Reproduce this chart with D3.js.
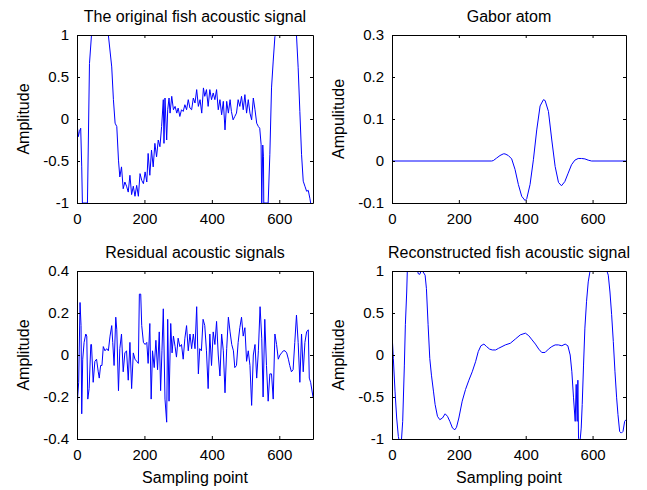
<!DOCTYPE html>
<html>
<head>
<meta charset="utf-8">
<script src="https://cdn.jsdelivr.net/npm/d3@7"></script>
<style>
  html, body { margin: 0; padding: 0; background: #fff; }
  svg { display: block; font-family: "Liberation Sans", Arial, Helvetica, sans-serif; }
</style>
</head>
<body>
<svg id="chart" width="647" height="490"></svg>
<script>
// ---------- data ----------
const originalX = [0,4,7,11,14,16,31,37,43,93,103,108,113,118,123,127,132,137,142,147,152,157,162,167,172,177,182,187,192,197,202,207,211,216,221,226,231,236,241,246,251,256,258,261,266,269,273,276,281,286,291,296,300,305,310,315,320,325,330,335,340,345,350,355,360,365,370,375,379,384,389,394,399,404,409,414,419,424,429,434,439,444,449,454,458,463,468,473,478,483,488,493,498,503,508,513,518,523,528,533,538,542,546,548,551,553,554,567,572,577,582,587,590,651,656,661,666,671,676,681,686,691,693];
const originalY = [-0.05,-0.21,-0.15,-0.11,-0.57,-1,-1,0.66,1,1,0.62,0.23,-0.05,-0.09,-0.49,-0.69,-0.57,-0.83,-0.75,-0.8,-0.87,-0.67,-0.9,-0.8,-0.92,-0.79,-0.92,-0.65,-0.73,-0.77,-0.63,-0.75,-0.41,-0.67,-0.37,-0.57,-0.29,-0.45,-0.25,-0.33,-0.09,0.23,-0.29,0.25,-0.25,0.11,0.25,0.07,0.27,0.11,0.15,0.07,0.13,0.03,0.11,0.09,0.17,0.11,0.23,0.13,0.11,0.25,0.19,0.35,0.15,0.23,0.07,0.37,0.27,0.35,0.15,0.35,0.23,0.31,0.23,0.35,0.11,0.23,0.05,0.21,-0.13,0.21,0.07,0.23,0.09,-0.01,0.03,0.07,0.23,0.15,0.27,0.11,0.29,0.07,0.23,0.07,-0.01,0.25,0.11,-0.05,-0.09,-0.11,-0.3,-1,-0.31,-0.45,-1,-1,-0.42,0.37,0.69,0.98,1,1,0.61,0.09,-0.42,-0.74,-0.8,-0.86,-0.85,-0.95,-1];

const gaborX = [0,298,303,313,323,333,338,348,358,368,378,388,398,403,413,423,433,443,453,458,468,478,488,498,507,517,527,537,547,557,567,577,587,597,700];
const gaborY = [0,0,0.001,0.007,0.013,0.017,0.017,0.013,0.005,-0.02,-0.056,-0.084,-0.094,-0.09,-0.056,0.003,0.074,0.131,0.146,0.144,0.118,0.05,-0.013,-0.051,-0.059,-0.049,-0.029,-0.009,0.002,0.006,0.006,0.005,0.002,0,0];

const residualX = [0,2,5,9,12,14,17,21,26,29,32,36,41,43,48,53,58,63,66,70,74,78,83,88,93,98,103,106,110,115,118,123,127,132,137,142,147,152,157,162,167,172,177,182,185,189,192,197,202,207,211,216,220,224,229,234,239,244,248,252,256,261,266,269,273,278,282,286,291,295,300,305,310,315,320,325,330,335,340,345,350,355,360,364,369,374,379,384,389,394,399,404,409,414,419,424,429,434,439,444,449,454,459,464,468,473,478,483,488,493,498,503,508,513,518,523,528,533,538,543,548,552,557,562,567,572,577,582,587,592,597,602,607,612,617,622,627,631,636,641,646,651,656,661,666,671,676,681,686,689,693,700];
const residualY = [-0.35,-0.2,-0.13,0.25,0.14,-0.28,-0.02,0.06,0.1,0.09,-0.21,-0.16,0.05,0.05,-0.13,-0.03,-0.02,-0.08,-0.11,-0.05,-0.05,0.04,0.02,0.03,0.02,0.09,0.14,0.06,-0.05,0.18,0.12,-0.17,0.03,0.1,-0.08,0.01,0.02,-0.12,0.06,-0.16,0.01,-0.02,-0.03,-0.04,0.29,0.29,0.14,0.06,0.05,0.06,-0.04,0.15,-0.21,0.02,-0.06,0.07,-0.07,0.11,-0.17,0.02,0.22,-0.21,-0.32,0.17,-0.22,0.15,0.01,0.09,0.04,-0.01,0.08,0.04,0.05,-0.02,0.08,0.14,0.02,0.1,0.03,0.1,0.03,0.23,-0.09,0.03,0.02,0.17,0.14,0.02,-0.16,0.1,-0.05,0.11,0.05,0.16,0,-0.1,0.1,0.02,-0.18,0.03,0.18,0.11,0.05,0.02,-0.06,-0.05,0.06,0.13,0.18,0.09,0.13,-0.03,0.02,-0.05,-0.24,0,0.05,-0.11,0.02,0.23,0.08,-0.2,0.17,-0.05,-0.22,-0.09,-0.09,-0.21,0.1,0.05,-0.02,0,0.01,0.02,0.02,0.01,-0.02,-0.05,-0.08,-0.07,0.06,0.19,0.06,-0.13,0.1,-0.08,0.06,0.11,0.12,-0.11,-0.13,-0.2];

const reconX = [0,4,9,14,19,22,28,32,37,40,44,46,52,62,71,78,83,87,93,99,103,108,113,118,124,129,136,143,151,159,166,173,181,188,193,200,210,220,230,240,250,258,266,275,283,292,300,310,319,329,339,354,369,384,399,409,419,429,439,448,458,468,478,488,498,508,518,526,533,538,543,548,551,554,556,558,562,566,569,573,577,582,587,592,599,607,617,627,642,647,652,657,662,667,672,676,681,686,691,696,700];
const reconY = [0.26,-0.04,-0.43,-0.75,-0.97,-1.03,-1.03,-0.79,-0.12,0.36,0.75,1.03,1.23,1.31,1.23,0.97,0.96,1,0.99,0.95,0.79,0.36,-0.04,-0.24,-0.43,-0.59,-0.73,-0.77,-0.75,-0.7,-0.73,-0.79,-0.87,-0.89,-0.86,-0.75,-0.55,-0.41,-0.3,-0.2,-0.08,0.04,0.11,0.13,0.1,0.07,0.06,0.06,0.08,0.1,0.12,0.14,0.19,0.24,0.26,0.23,0.18,0.13,0.07,0.03,0.03,0.07,0.1,0.12,0.12,0.11,0.13,0.11,0,-0.2,-0.51,-0.79,-0.35,-0.79,-0.3,-0.99,-1.05,-0.87,-0.59,-0.12,0.32,0.64,0.87,0.99,1.01,1,1,1.02,1.01,0.95,0.75,0.48,0.16,-0.2,-0.51,-0.71,-0.91,-0.93,-0.91,-0.79,-0.77];

const xTicks = [0, 200, 400, 600];
const yTicksSignal = [-1, -0.5, 0, 0.5, 1];
const yTicksGabor = [-0.1, 0, 0.1, 0.2, 0.3];
const yTicksResidual = [-0.4, -0.2, 0, 0.2, 0.4];

const titles = ["The original fish acoustic signal", "Gabor atom", "Residual acoustic signals", "Reconstructed fish acoustic signal"];
const yLabels = ["Amplitude", "Ampulitude", "Amplitude", "Amplitude"];
const xLabel = "Sampling point";

// ---------- drawing ----------
const svg = d3.select("#chart");
const panels = [
  { x: originalX, y: originalY, yDom: [-1, 1], yTicks: yTicksSignal, left: 77, right: 313, top: 35, bottom: 203, title: titles[0], ylab: yLabels[0], xlab: false },
  { x: gaborX, y: gaborY, yDom: [-0.1, 0.3], yTicks: yTicksGabor, left: 392, right: 626, top: 35, bottom: 203, title: titles[1], ylab: yLabels[1], xlab: false },
  { x: residualX, y: residualY, yDom: [-0.4, 0.4], yTicks: yTicksResidual, left: 77, right: 313, top: 271, bottom: 439, title: titles[2], ylab: yLabels[2], xlab: true },
  { x: reconX, y: reconY, yDom: [-1, 1], yTicks: yTicksSignal, left: 392, right: 626, top: 271, bottom: 439, title: titles[3], ylab: yLabels[3], xlab: true }
];

const tickFont = 15, labelFont = 16;
const fmt = d => (d === 0 ? "0" : String(d).replace(/^(-?)0\./, "$10."));

panels.forEach((p, i) => {
  const xs = d3.scaleLinear().domain([0, 700]).range([p.left, p.right]);
  const ys = d3.scaleLinear().domain(p.yDom).range([p.bottom, p.top]);
  const g = svg.append("g");

  const clipId = "clip" + i;
  svg.append("clipPath").attr("id", clipId).append("rect")
    .attr("x", p.left).attr("y", p.top).attr("width", p.right - p.left).attr("height", p.bottom - p.top);

  const pts = p.x.map((v, k) => [v, p.y[k]]);
  const line = d3.line().x(d => xs(d[0])).y(d => ys(d[1]));
  g.append("path").datum(pts)
    .attr("clip-path", `url(#${clipId})`)
    .attr("fill", "none").attr("stroke", "#0000ff").attr("stroke-width", 1)
    .attr("stroke-linejoin", "round")
    .attr("d", line);

  // axes (inward ticks on all four sides, MATLAB box style)
  const tl = 3;
  const axB = d3.axisBottom(xs).tickValues(xTicks).tickSizeInner(-tl).tickSizeOuter(0).tickPadding(tl + 7).tickFormat(d3.format("d"));
  const axT = d3.axisTop(xs).tickValues(xTicks).tickSizeInner(-tl).tickSizeOuter(0).tickFormat("");
  const axL = d3.axisLeft(ys).tickValues(p.yTicks).tickSizeInner(-tl).tickSizeOuter(0).tickPadding(tl + 5).tickFormat(fmt);
  const axR = d3.axisRight(ys).tickValues(p.yTicks).tickSizeInner(-tl).tickSizeOuter(0).tickFormat("");

  const styleAxis = sel => {
    sel.selectAll(".domain").attr("stroke", "#000").attr("stroke-width", 1);
    sel.selectAll(".tick line").attr("stroke", "#000");
    sel.selectAll("text").attr("fill", "#000").style("font-size", tickFont + "px")
      .style("font-family", '"Liberation Sans", Arial, sans-serif');
  };
  g.append("g").attr("transform", `translate(0,${p.bottom})`).call(axB).call(styleAxis);
  g.append("g").attr("transform", `translate(0,${p.top})`).call(axT).call(styleAxis);
  g.append("g").attr("transform", `translate(${p.left},0)`).call(axL).call(styleAxis);
  g.append("g").attr("transform", `translate(${p.right},0)`).call(axR).call(styleAxis);

  // title
  g.append("text").attr("x", (p.left + p.right) / 2).attr("y", p.top - 13)
    .attr("text-anchor", "middle").style("font-size", labelFont + "px").attr("fill", "#000")
    .text(p.title);
  // y label
  g.append("text")
    .attr("transform", `translate(${p.left - 48},${(p.top + p.bottom) / 2}) rotate(-90)`)
    .attr("text-anchor", "middle").style("font-size", labelFont + "px").attr("fill", "#000")
    .text(p.ylab);
  // x label
  if (p.xlab) {
    g.append("text").attr("x", (p.left + p.right) / 2).attr("y", p.bottom + 44)
      .attr("text-anchor", "middle").style("font-size", labelFont + "px").attr("fill", "#000")
      .text(xLabel);
  }
});
</script>
</body>
</html>
